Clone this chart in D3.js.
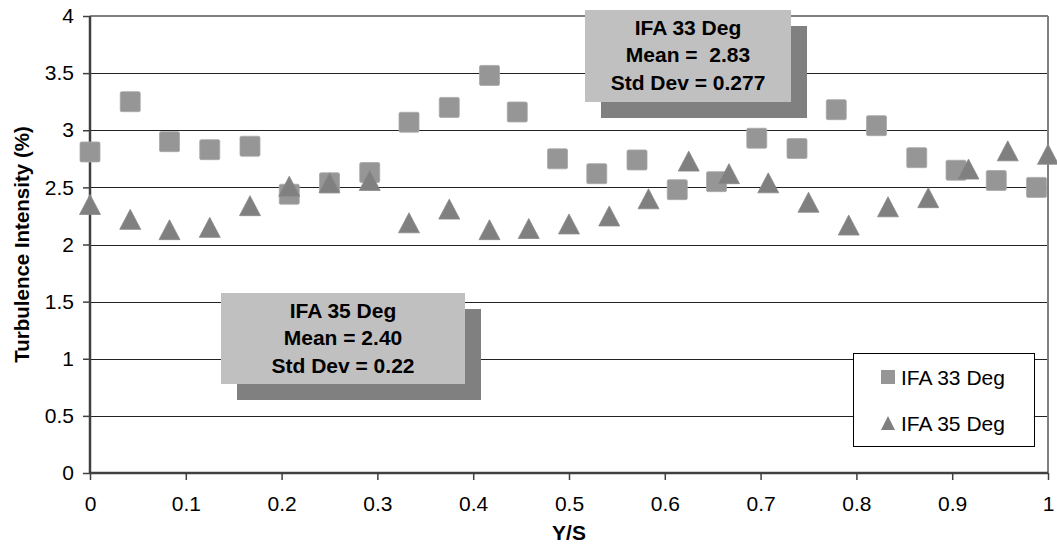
<!DOCTYPE html>
<html><head><meta charset="utf-8">
<script src="https://cdn.jsdelivr.net/npm/d3@7"></script>
<style>body{margin:0;background:#fff}svg{display:block}text{font-family:"Liberation Sans",Arial,sans-serif}</style>
</head><body><svg id="c" width="1057" height="556"></svg>
<script>
const x33 = [0,0.042,0.083,0.125,0.167,0.208,0.25,0.292,0.333,0.375,0.417,0.446,0.488,0.529,0.571,0.613,0.654,0.696,0.738,0.779,0.821,0.863,0.904,0.946,0.988];
const y33 = [2.81,3.25,2.90,2.83,2.86,2.44,2.54,2.63,3.07,3.20,3.48,3.16,2.75,2.62,2.74,2.48,2.55,2.93,2.84,3.18,3.04,2.76,2.65,2.56,2.50];
const x35 = [0,0.042,0.083,0.125,0.167,0.208,0.25,0.292,0.333,0.375,0.417,0.458,0.5,0.542,0.583,0.625,0.667,0.708,0.75,0.792,0.833,0.875,0.917,0.958,1];
const y35 = [2.35,2.22,2.13,2.15,2.34,2.51,2.54,2.56,2.19,2.31,2.13,2.14,2.18,2.25,2.40,2.73,2.62,2.54,2.37,2.17,2.33,2.41,2.66,2.82,2.79];
const xTicks = [0,0.1,0.2,0.3,0.4,0.5,0.6,0.7,0.8,0.9,1];
const yTicks = [0,0.5,1,1.5,2,2.5,3,3.5,4];
const seriesNames = ["IFA 33 Deg","IFA 35 Deg"];
const box33 = ["IFA 33 Deg","Mean =  2.83","Std Dev = 0.277"];
const box35 = ["IFA 35 Deg","Mean = 2.40","Std Dev = 0.22"];

const svg = d3.select("#c");
const L=90,R=1048,T=16,B=473;
const x = d3.scaleLinear().domain([0,1]).range([L,R]);
const y = d3.scaleLinear().domain([0,4]).range([B,T]);
const FS = 21;

// gridlines
svg.append("g").selectAll("line").data(yTicks.filter(v=>v>0&&v<4)).join("line")
  .attr("x1",L).attr("x2",R).attr("y1",d=>Math.round(y(d))+0.5).attr("y2",d=>Math.round(y(d))+0.5)
  .attr("stroke","#222").attr("stroke-width",1);
// top and right border
svg.append("line").attr("x1",L).attr("x2",R).attr("y1",T).attr("y2",T).attr("stroke","#808080").attr("stroke-width",2);
svg.append("line").attr("x1",R).attr("x2",R).attr("y1",T).attr("y2",B).attr("stroke","#808080").attr("stroke-width",2);

// axes
const yAx = svg.append("g").attr("transform",`translate(${L},0)`)
  .call(d3.axisLeft(y).tickValues(yTicks).tickFormat(d3.format("")).tickSize(7).tickPadding(9));
const xAx = svg.append("g").attr("transform",`translate(0,${B})`)
  .call(d3.axisBottom(x).tickValues(xTicks).tickFormat(d3.format("")).tickSize(7).tickPadding(16));
[yAx,xAx].forEach(g=>{
  g.select(".domain").attr("stroke","#404040").attr("stroke-width",2.5);
  g.selectAll(".tick line").attr("stroke","#404040").attr("stroke-width",1.5);
  g.selectAll(".tick text").attr("font-size",FS).attr("fill","#000").attr("font-family","Liberation Sans, Arial, sans-serif");
});
xAx.select(".domain").attr("d",`M${L},0H${R}`);
yAx.select(".domain").attr("d",`M0,${T}V${B}`);

// titles
svg.append("text").attr("x",x(0.5)).attr("y",540).attr("text-anchor","middle")
  .attr("font-size",FS).attr("font-weight","bold").text("Y/S");
svg.append("text").attr("transform",`translate(29,${(T+B)/2}) rotate(-90)`).attr("text-anchor","middle")
  .attr("font-size",20.5).attr("font-weight","bold").text("Turbulence Intensity (%)");

// text boxes
function tbox(x0,y0,w,h,lines){
  const g = svg.append("g");
  g.append("rect").attr("x",x0+16).attr("y",y0+16).attr("width",w).attr("height",h).attr("fill","#808080");
  g.append("rect").attr("x",x0).attr("y",y0).attr("width",w).attr("height",h).attr("fill","#c0c0c0");
  g.selectAll("text").data(lines).join("text").attr("x",x0+w/2).attr("y",(d,i)=>y0+24.5+i*27.5)
    .attr("text-anchor","middle").attr("font-size",FS).attr("font-weight","bold")
    .style("white-space","pre").text(d=>d);
}
tbox(585,10,206,92,box33);
tbox(221,293,244,91,box35);

// markers
const sq = 20;
svg.append("g").selectAll("rect").data(x33.map((v,i)=>[v,y33[i]])).join("rect")
  .attr("x",d=>x(d[0])-sq/2).attr("y",d=>y(d[1])-sq/2).attr("width",sq).attr("height",sq).attr("rx",1.5)
  .attr("fill","#969696").attr("stroke","#a8a8a8").attr("stroke-width",0.8);
function tri(cx,cy,w,h){return `M${cx},${cy-h/2}L${cx+w/2},${cy+h/2}L${cx-w/2},${cy+h/2}Z`;}
svg.append("g").selectAll("path").data(x35.map((v,i)=>[v,y35[i]])).join("path")
  .attr("d",d=>tri(x(d[0]),y(d[1]),21,20)).attr("fill","#808080").attr("stroke","#8a8a8a").attr("stroke-width",0.8).attr("stroke-linejoin","round");

// legend
const lg = svg.append("g");
lg.append("rect").attr("x",853.5).attr("y",353.5).attr("width",181).attr("height",93).attr("fill","#fff").attr("stroke","#000").attr("stroke-width",1);
lg.append("rect").attr("x",881).attr("y",370).attr("width",14).attr("height",14).attr("fill","#969696");
lg.append("path").attr("d",tri(888,423,14,14)).attr("fill","#808080");
lg.selectAll("text").data(seriesNames).join("text").attr("x",901).attr("y",(d,i)=>384.5+i*46)
  .attr("font-size",FS).text(d=>d);
</script></body></html>
